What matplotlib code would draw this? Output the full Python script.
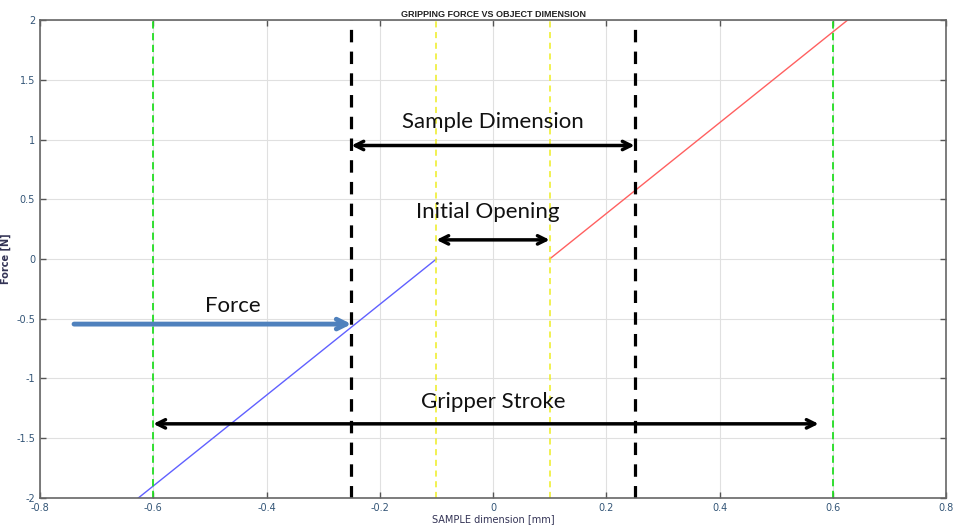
import matplotlib
matplotlib.use('Agg')
import matplotlib.pyplot as plt
import numpy as np

plt.rcParams['axes.unicode_minus'] = False

# data
blue_x = [-0.65, -0.1]
blue_y = [-2.09, 0.0]
red_x = [0.1, 0.65]
red_y = [0.0, 2.09]

stroke_lines = [-0.6, 0.6]      # green
opening_lines = [-0.1, 0.1]     # yellow
sample_lines = [-0.25, 0.25]    # black

xticks = [-0.8, -0.6, -0.4, -0.2, 0, 0.2, 0.4, 0.6, 0.8]
yticks = [-2, -1.5, -1, -0.5, 0, 0.5, 1, 1.5, 2]

fig = plt.figure(figsize=(9.54, 5.28), dpi=100)
ax = fig.add_axes([0.042, 0.057, 0.9496, 0.905])

ax.plot(blue_x, blue_y, color='#6060ff', lw=1)
ax.plot(red_x, red_y, color='#ff6060', lw=1)

for x in stroke_lines:
    ax.axvline(x, color='#22dd22', lw=1.3, ls=(0, (4, 2.5)))
for x in opening_lines:
    ax.axvline(x, color='#eeee22', lw=1.1, ls=(0, (4, 3)))
for x in sample_lines:
    ax.axvline(x, color='black', lw=2.3, ls=(0, (3.9, 2.9)))

ax.set_xlim(-0.8, 0.8)
ax.set_ylim(-2, 2)
ax.set_xticks(xticks)
ax.set_yticks(yticks)
ax.set_xticklabels(['%g' % t for t in xticks])
ax.set_yticklabels(['%g' % t for t in yticks])
ax.grid(True, color='#e0e0e0', lw=0.8)
ax.set_axisbelow(True)
ax.tick_params(direction='in', length=4, width=1, colors='#555555',
               labelcolor='#335577', labelsize=7, top=True, right=True)
for s in ax.spines.values():
    s.set_color('#666666')
    s.set_linewidth(1.2)

ax.set_title('GRIPPING FORCE VS OBJECT DIMENSION', fontsize=6.5, fontweight='bold',
             family='Liberation Sans', color='#222222', pad=2)
ax.set_xlabel('SAMPLE dimension [mm]', fontsize=7, color='#333355', labelpad=1)
ax.set_ylabel('Force [N]', fontsize=7, color='#333355', labelpad=4, fontweight='bold')

# annotations
afont = dict(fontsize=16, family='Lato', color='#111111', ha='center', va='center')
dbl = dict(arrowstyle='<->,head_length=0.6,head_width=0.3', color='black', lw=2.5,
           shrinkA=0, shrinkB=0)

ax.annotate('', xy=(0.25, 0.95), xytext=(-0.25, 0.95), arrowprops=dbl)
ax.text(0.0, 1.15, 'Sample Dimension', **afont)

ax.annotate('', xy=(0.1, 0.16), xytext=(-0.1, 0.16), arrowprops=dbl)
ax.text(-0.01, 0.39, 'Initial Opening', **afont)

ax.annotate('', xy=(0.575, -1.38), xytext=(-0.6, -1.38), arrowprops=dbl)
ax.text(0.0, -1.2, 'Gripper Stroke', **afont)

ax.annotate('', xy=(-0.25, -0.545), xytext=(-0.74, -0.545),
            arrowprops=dict(arrowstyle='->,head_length=0.7,head_width=0.35',
                            color='#4f81bd', lw=3.5, shrinkA=0, shrinkB=0))
ax.text(-0.46, -0.39, 'Force', **afont)

plt.savefig('out.png', dpi=100)
